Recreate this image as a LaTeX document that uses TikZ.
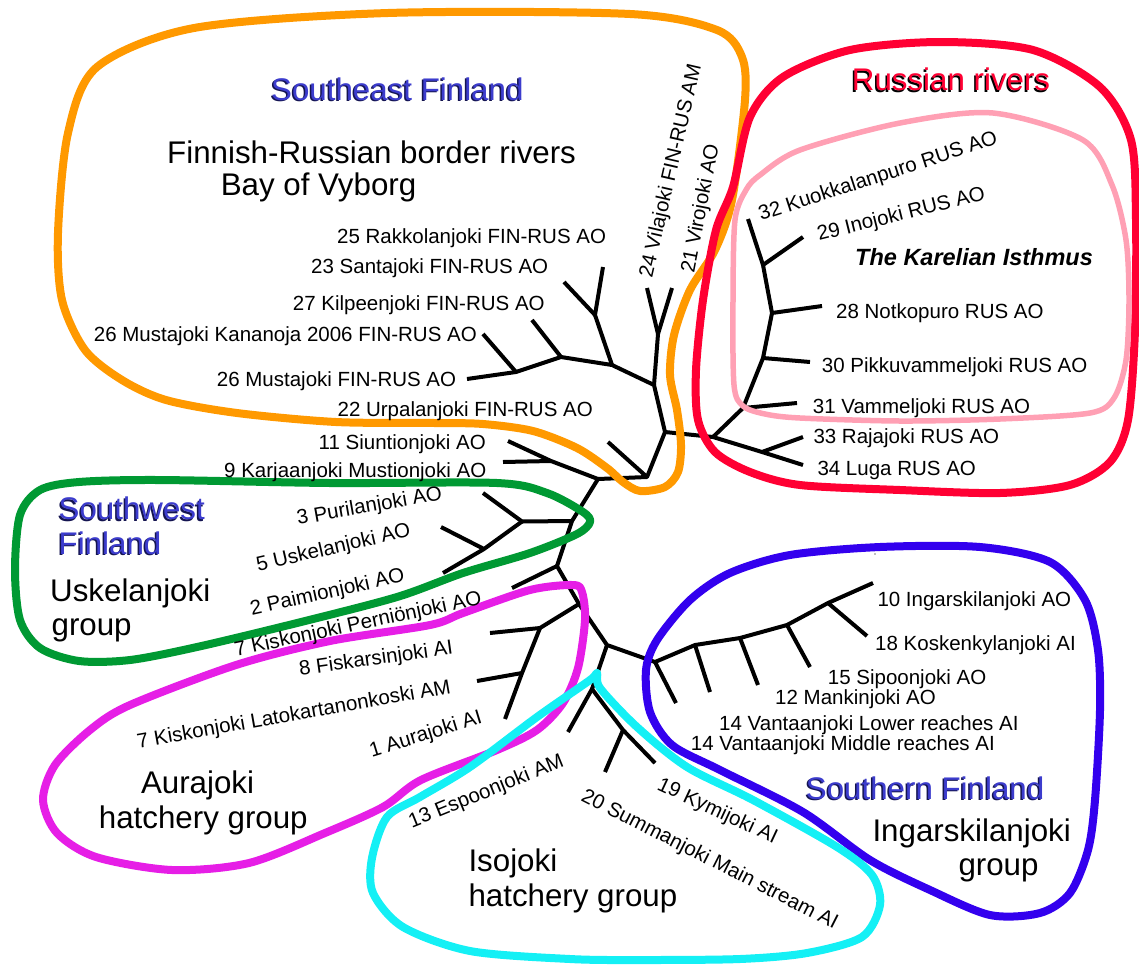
\documentclass[tikz,border=0pt]{standalone}
\usepackage{fontspec}
\setmainfont{Liberation Sans}
\definecolor{grporange}{RGB}{255,153,0}
\definecolor{grpred}{RGB}{255,0,51}
\definecolor{grppink}{RGB}{255,160,180}
\definecolor{grpgreen}{RGB}{0,153,51}
\definecolor{grpmagenta}{RGB}{230,30,230}
\definecolor{grpblue}{RGB}{51,0,238}
\definecolor{grpcyan}{RGB}{20,240,245}
\definecolor{titleblue}{RGB}{60,60,205}
\definecolor{titleshade}{RGB}{20,20,80}
\definecolor{titlered}{RGB}{255,0,51}
% text with a dark drop shadow set just behind it
\newcommand\dropshade[2]{\makebox[0pt][l]{\kern-1.5pt\raisebox{-1.5pt}{\textcolor{#1}{#2}}}#2}
\begin{document}
\begin{tikzpicture}[x=1pt,y=-1pt,
  branch/.style={line width=4pt,black,line join=round},
  groupline/.style={line width=8pt,line join=round},
  lbl/.style={inner sep=0pt,font=\fontsize{20.5}{24}\selectfont},
  bigtext/.style={inner sep=0pt,font=\fontsize{31.3}{36}\selectfont},
  titletext/.style={bigtext,text=titleblue}]
\useasboundingbox (0,0) rectangle (1139,964);

% ---------- tree: inner vertices ----------
\coordinate (c0) at (665,432);
\coordinate (c1) at (647,477);
\coordinate (c2) at (598,479);
\coordinate (c3) at (572,521);
\coordinate (c4) at (557,566);
\coordinate (c5) at (579,604);
\coordinate (c6) at (607,645);
% Finnish-Russian border rivers
\coordinate (s1) at (654,385);
\coordinate (s2) at (658,334);
\coordinate (s3) at (612,365);
\coordinate (s4) at (595,315);
\coordinate (s5) at (561,357);
\coordinate (s6) at (516,372);
% Russian rivers
\coordinate (r0) at (713,437);
\coordinate (r1) at (743,408);
\coordinate (r2) at (763,358);
\coordinate (r3) at (772,313);
\coordinate (r4) at (763,265);
\coordinate (r5) at (762,452);
% south-west
\coordinate (w1) at (551,461);
\coordinate (w2) at (522,521.5);
\coordinate (w3) at (484,549);
% Aurajoki
\coordinate (a1) at (540,628);
\coordinate (a2) at (522,673);
% Isojoki
\coordinate (i1) at (592,689);
\coordinate (i2) at (623,730);
% southern
\coordinate (g1) at (655,662);
\coordinate (g2) at (695,645);
\coordinate (g3) at (740,638);
\coordinate (g4) at (787,625);
\coordinate (g5) at (828,603);

% ---------- tree: leaf tips ----------
\coordinate (t24) at (647,288);
\coordinate (t21) at (672,288);
\coordinate (t25) at (603,267);
\coordinate (t23) at (564,282);
\coordinate (t27) at (532,320);
\coordinate (t26k) at (483,334);
\coordinate (t26m) at (467,379);
\coordinate (t22) at (608,442);
\coordinate (t11) at (508,441);
\coordinate (t9) at (503,462);
\coordinate (t3) at (483,493);
\coordinate (t5) at (441,527);
\coordinate (t2) at (443,573);
\coordinate (t7p) at (512,588);
\coordinate (t8) at (490,633);
\coordinate (t7l) at (477,681);
\coordinate (t1) at (505,719);
\coordinate (t13) at (568,732);
\coordinate (t19) at (655,763);
\coordinate (t20) at (605,772);
\coordinate (t14m) at (676,703);
\coordinate (t14l) at (710,692);
\coordinate (t12) at (758,685);
\coordinate (t15) at (810,667);
\coordinate (t18) at (867,636);
\coordinate (t10) at (873,583);
\coordinate (t31) at (797,403);
\coordinate (t30) at (810,362);
\coordinate (t28) at (822,306);
\coordinate (t29) at (803,237);
\coordinate (t32) at (748,219);
\coordinate (t33) at (803,437);
\coordinate (t34) at (803,465);

% ---------- tree: edges ----------
\draw[branch] (t26m) -- (s6) -- (s5) -- (s3) -- (s1) -- (c0) -- (c1) -- (c2)
  -- (c3) -- (c4) -- (c5) -- (c6) -- (g1) -- (g2) -- (g3) -- (g4) -- (g5) -- (t10);
\draw[branch] (s6) -- (t26k);
\draw[branch] (s5) -- (t27);
\draw[branch] (s3) -- (s4) -- (t25);
\draw[branch] (s4) -- (t23);
\draw[branch] (s1) -- (s2) -- (t24);
\draw[branch] (s2) -- (t21);
\draw[branch] (c0) -- (r0) -- (r1) -- (r2) -- (r3) -- (r4) -- (t32);
\draw[branch] (r4) -- (t29);
\draw[branch] (r3) -- (t28);
\draw[branch] (r2) -- (t30);
\draw[branch] (r1) -- (t31);
\draw[branch] (r0) -- (r5) -- (t34);
\draw[branch] (r5) -- (t33);
\draw[branch] (c1) -- (t22);
\draw[branch] (c2) -- (w1) -- (t11);
\draw[branch] (w1) -- (t9);
\draw[branch] (c3) -- (w2) -- (t3);
\draw[branch] (w2) -- (w3) -- (t5);
\draw[branch] (w3) -- (t2);
\draw[branch] (c4) -- (t7p);
\draw[branch] (c5) -- (a1) -- (t8);
\draw[branch] (a1) -- (a2) -- (t7l);
\draw[branch] (a2) -- (t1);
\draw[branch] (c6) -- (i1) -- (t13);
\draw[branch] (i1) -- (i2) -- (t19);
\draw[branch] (i2) -- (t20);
\draw[branch] (g1) -- (t14m);
\draw[branch] (g2) -- (t14l);
\draw[branch] (g3) -- (t12);
\draw[branch] (g4) -- (t15);
\draw[branch] (g5) -- (t18);

% ---------- group outlines ----------
\draw[groupline,grporange] plot[smooth cycle] coordinates {
  (388,13) (630,14) (717,30) (742,57) (745,100) (732,200) (715,250) (690,290)
  (674,335) (670,375) (677,410) (681,445) (678,472) (665,487) (640,491)
  (623,482) (607,468) (577,448) (533,431) (483,424) (435,423) (336,422)
  (237,413) (166,400) (122,380) (85,350) (62,300) (58,233) (68,133) (97,67)
  (194,28)};
\draw[groupline,grpred] plot[smooth cycle] coordinates {
  (940,42) (1033,50) (1100,87) (1131,140) (1136,220) (1135,330) (1128,420)
  (1110,462) (1070,485) (1000,493) (900,490) (800,485) (750,472) (715,452)
  (698,420) (696,370) (703,300) (716,230) (733,187) (750,117) (783,77) (850,50)};
\draw[line width=5.5pt,line join=round,grppink] plot[smooth cycle] coordinates {
  (993,113) (1083,140) (1112,185) (1126,240) (1129,300) (1126,360) (1114,398)
  (1090,413) (1000,419) (900,421) (800,418) (765,414) (743,406) (734,385)
  (733,300) (735,220) (746,190) (760,175) (800,150) (900,123)};
\draw[groupline,grpgreen] plot[smooth cycle] coordinates {
  (79,482) (158,480) (330,483) (497,483) (547,493) (583,512) (590,522)
  (577,534) (530,553) (463,573) (397,597) (297,623) (197,647) (130,660)
  (79,661) (40,648) (20,620) (15,570) (20,515) (40,490)};
\draw[groupline,grpmagenta] plot[smooth cycle] coordinates {
  (573,585) (582,592) (585,620) (578,668) (563,703) (537,730) (497,750)
  (421,780) (383,807) (325,833) (249,863) (172,870) (96,857) (57,833)
  (43,800) (55,765) (90,730) (130,705) (236,665) (330,641) (430,625)
  (463,613) (530,590)};
\draw[groupline,grpblue] plot[smooth cycle] coordinates {
  (880,547) (980,547) (1050,562) (1085,600) (1098,650) (1100,710) (1095,800)
  (1088,850) (1070,893) (1040,913) (990,915) (930,890) (870,860) (803,812)
  (720,770) (672,745) (650,712) (646,670) (657,640) (690,600) (730,573)
  (790,555)};
\draw[groupline,grpcyan] plot[smooth cycle] coordinates {
  (597,673) (600,688) (637,727) (687,767) (753,800) (837,847) (872,875)
  (880,905) (862,937) (807,953) (740,959) (640,960) (570,959) (470,951)
  (403,927) (373,893) (372,858) (387,817) (420,797) (470,767) (537,717)
  (590,680)};
\fill[gray] (875,554) circle (0.9);

% ---------- leaf labels ----------
\node[lbl,anchor=base west] (n25) at (337,243) {25 Rakkolanjoki FIN-RUS AO};
\node[lbl,anchor=base west] (n23) at (311,273) {23 Santajoki FIN-RUS AO};
\node[lbl,anchor=base west] (n27) at (292.7,310) {27 Kilpeenjoki FIN-RUS AO};
\node[lbl,anchor=base east] (n26k) at (477,341.5) {26 Mustajoki Kananoja 2006 FIN-RUS AO};
\node[lbl,anchor=base west] (n26m) at (216.7,386.5) {26 Mustajoki FIN-RUS AO};
\node[lbl,anchor=base east] (n22) at (593,416.5) {22 Urpalanjoki FIN-RUS AO};
\node[lbl,anchor=base east] (n11) at (486,449.5) {11 Siuntionjoki AO};
\node[lbl,anchor=base east] (n9) at (486.5,477) {9 Karjaanjoki Mustionjoki AO};
\node[lbl,anchor=base west,rotate=77] (n24) at (652,279) {24 Vilajoki FIN-RUS AM};
\node[lbl,anchor=base west,rotate=79] (n21) at (694,274) {21 Virojoki AO};

\node[lbl,anchor=base west,rotate=18] (n32) at (761,221) {32 Kuokkalanpuro RUS AO};
\node[lbl,anchor=base west,rotate=14] (n29) at (819,241) {29 Inojoki RUS AO};
\node[lbl,anchor=base west] (n28) at (836,318) {28 Notkopuro RUS AO};
\node[lbl,anchor=base west] (n30) at (821.7,372.5) {30 Pikkuvammeljoki RUS AO};
\node[lbl,anchor=base west] (n31) at (812.7,413) {31 Vammeljoki RUS AO};
\node[lbl,anchor=base west] (n33) at (813.3,443) {33 Rajajoki RUS AO};
\node[lbl,anchor=base west] (n34) at (817.3,475) {34 Luga RUS AO};
\node[inner sep=0pt,anchor=base west,font=\fontsize{23.5}{28}\selectfont\bfseries\itshape]
  (karelian) at (855,265.7) {The Karelian Isthmus};

\node[lbl,anchor=base west,rotate=10] (n3) at (298,525) {3 Purilanjoki AO};
\node[lbl,anchor=base west,rotate=13] (n5) at (258,571.5) {5 Uskelanjoki AO};
\node[lbl,anchor=base west,rotate=12.5] (n2) at (251.7,615.5) {2 Paimionjoki AO};
\node[lbl,anchor=base west,rotate=12] (n7p) at (236,656.5) {7 Kiskonjoki Perniönjoki AO};
\node[lbl,anchor=base west,rotate=8] (n8) at (300,675.5) {8 Fiskarsinjoki AI};
\node[lbl,anchor=base west,rotate=10] (n7l) at (138.3,748.3) {7 Kiskonjoki Latokartanonkoski AM};
\node[lbl,anchor=base west,rotate=17] (n1) at (371.7,757.3) {1 Aurajoki AI};

\node[lbl,anchor=base west,rotate=22] (n13) at (411.7,828.3) {13 Espoonjoki AM};
\node[lbl,anchor=base west,rotate=-25] (n19) at (656,789) {19 Kymijoki AI};
\node[lbl,anchor=base west,rotate=-27] (n20) at (580,800) {20 Summanjoki Main stream AI};

\node[lbl,anchor=base west] (n10) at (877.3,606) {10 Ingarskilanjoki AO};
\node[lbl,anchor=base west] (n18) at (875,650) {18 Koskenkylanjoki AI};
\node[lbl,anchor=base west] (n15) at (827.7,684) {15 Sipoonjoki AO};
\node[lbl,anchor=base west] (n12) at (775,704) {12 Mankinjoki AO};
\node[lbl,anchor=base west] (n14l) at (719,730) {14 Vantaanjoki Lower reaches AI};
\node[lbl,anchor=base west] (n14m) at (690.7,750.5) {14 Vantaanjoki Middle reaches AI};

% ---------- group titles ----------
\node[titletext,anchor=base west] (se) at (271,100) {\dropshade{titleshade}{Southeast Finland}};
\node[bigtext,anchor=base west] (fr1) at (167,163.5) {Finnish-Russian border rivers};
\node[bigtext,anchor=base west] (fr2) at (220.6,195) {Bay of Vyborg};

\node[bigtext,anchor=base west,text=titlered] (ru) at (851.7,90.5) {\dropshade{black}{Russian rivers}};

\node[titletext,anchor=base west] (sw1) at (58.5,519.5) {\dropshade{titleshade}{Southwest}};
\node[titletext,anchor=base west] (sw2) at (58.5,554) {\dropshade{titleshade}{Finland}};
\node[bigtext,anchor=base west] (us1) at (50,601.7) {Uskelanjoki};
\node[bigtext,anchor=base west] (us2) at (51.4,635) {group};

\node[bigtext,anchor=base west] (au1) at (140.8,793.3) {Aurajoki};
\node[bigtext,anchor=base west] (au2) at (98.7,828.3) {hatchery group};

\node[bigtext,anchor=base west] (is1) at (468.3,871.7) {Isojoki};
\node[bigtext,anchor=base west] (is2) at (468.3,906.7) {hatchery group};

\node[titletext,anchor=base west] (sf) at (805.7,799.3) {\dropshade{titleshade}{Southern Finland}};
\node[bigtext,anchor=base west] (ig1) at (872.3,841.7) {Ingarskilanjoki};
\node[bigtext,anchor=base west] (ig2) at (958.3,875) {group};
\end{tikzpicture}
\end{document}
